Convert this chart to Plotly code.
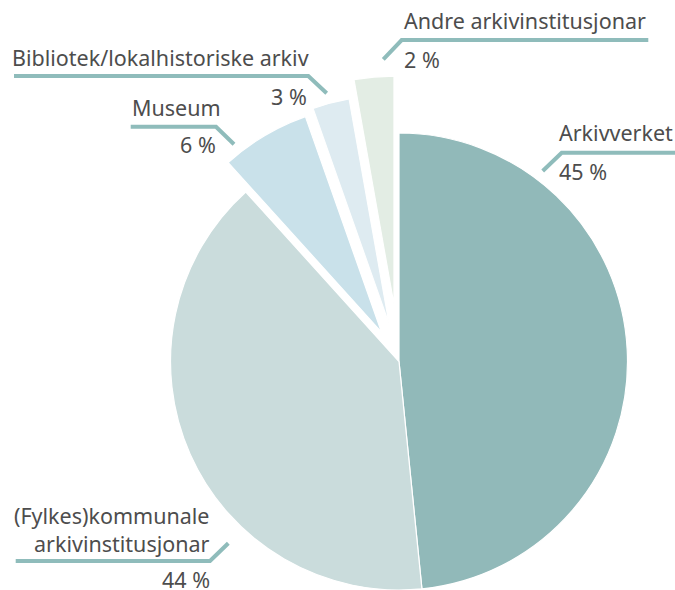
import math
import plotly.graph_objects as go

# ---- data ----
categories = ["Arkivverket", "(Fylkes)kommunale arkivinstitusjonar", "Museum",
              "Bibliotek/lokalhistoriske arkiv", "Andre arkivinstitusjonar"]
values = [48.4, 39.9, 6.3, 2.6, 2.8]          # slice sizes as drawn
pct_labels = ["45 %", "44 %", "6 %", "3 %", "2 %"]  # printed labels
pulls = [0, 0, 0.15, 0.17, 0.25]
colors = ["#91b9b9", "#cadcdc", "#c9e1ea", "#deebf1", "#e3ede4"]

W, H = 675, 590
R = 228.5
CX, CY = 399, 361.5
TEXT = "#4d4d4d"
LINE = "#8fbcbb"
FONT = "Noto Sans"

fig = go.Figure()
total = sum(values)
starts = []
cum = 0
for v in values:
    starts.append(cum)
    cum += v

# group slices: unpulled slices share one trace, each pulled slice gets its own
groups = {}
for i, p in enumerate(pulls):
    groups.setdefault("base" if p == 0 else i, []).append(i)

for key, idxs in groups.items():
    i0 = idxs[0]
    p = pulls[i0]
    mid = (starts[i0] + values[i0] / 2) / total * 2 * math.pi
    dx = p * R * math.sin(mid)
    dy = -p * R * math.cos(mid)
    cx, cy = CX + dx, CY + dy
    dom_x = [max(0, (cx - R) / W), min(1, (cx + R) / W)]
    dom_y = [max(0, 1 - (cy + R) / H), min(1, 1 - (cy - R) / H)]
    cols = [colors[j] if j in idxs else "rgba(0,0,0,0)" for j in range(len(values))]
    lw = [1.2 if j in idxs else 0 for j in range(len(values))]
    fig.add_trace(go.Pie(
        labels=categories, values=values, sort=False, direction="clockwise",
        rotation=0, textinfo="none", hoverinfo="skip", showlegend=False,
        marker=dict(colors=cols, line=dict(color="white", width=lw)),
        domain=dict(x=dom_x, y=dom_y),
    ))

def px(x):
    return x / W

def py(y):
    return 1 - y / H

# leader lines (pixel paths)
paths = [
    [(383.3, 59.3), (401.7, 40), (648.3, 40)],          # Andre
    [(14, 76), (308.3, 76), (326.7, 93.3)],             # Bibliotek
    [(130.7, 126.7), (216, 126.7), (234, 144.3)],       # Museum
    [(542.7, 171), (561.7, 152.7), (675, 152.7)],       # Arkivverket
    [(15.7, 561), (210, 561), (228.3, 543.3)],          # kommunale
]
for pts in paths:
    d = "M " + " L ".join(f"{px(x):.5f},{py(y):.5f}" for x, y in pts)
    fig.add_shape(type="path", path=d, xref="paper", yref="paper",
                  line=dict(color=LINE, width=4))

fs = 21.5
def ann(text, x, y, xanchor, align="left"):
    fig.add_annotation(text=text, x=px(x), y=py(y), xref="paper", yref="paper",
                       xanchor=xanchor, yanchor="middle", showarrow=False,
                       align=align, font=dict(family=FONT, size=fs, color=TEXT))

ann(categories[4], 402, 21, "left")
ann(pct_labels[4], 402, 60, "left")
ann(categories[3], 10, 57, "left")
ann(pct_labels[3], 309, 97, "right")
ann(categories[2], 130, 107, "left")
ann(pct_labels[2], 218, 144, "right")
ann(categories[0], 557, 132, "left")
ann(pct_labels[0], 557, 171, "left")
ann("(Fylkes)kommunale<br>arkivinstitusjonar", 212, 529, "right", align="right")
ann(pct_labels[1], 212, 579, "right")

fig.update_layout(width=W, height=H, margin=dict(l=0, r=0, t=0, b=0),
                  paper_bgcolor="white", plot_bgcolor="white")
fig.write_html("out.html", config={"displayModeBar": False},
               post_script="document.body.style.margin='0';")
